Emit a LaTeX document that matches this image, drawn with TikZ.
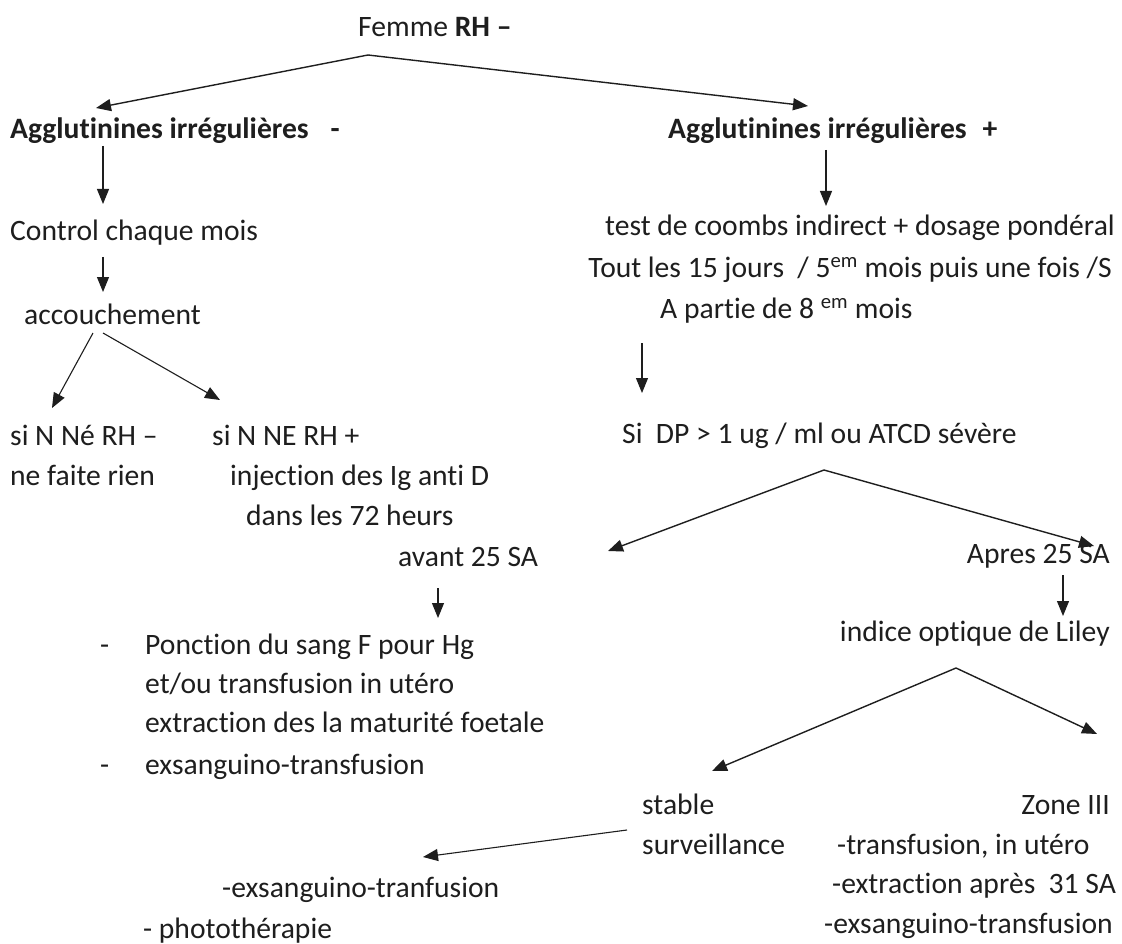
\documentclass[tikz,border=0pt]{standalone}
\usepackage{fontspec}
\setmainfont{Carlito}[Ligatures={NoCommon}]
\usetikzlibrary{arrows.meta}
\definecolor{ink}{HTML}{1E1E1E}
\begin{document}
\begin{tikzpicture}[x=1pt,y=-1pt,
  txt/.style={inner sep=0pt, anchor=base west, font=\fontsize{29.6}{40}\selectfont, text=ink},
  txtr/.style={txt, anchor=base east},
  arr/.style={draw=ink, line width=1.4pt, -{Triangle[length=15pt,width=12pt]}},
  varr/.style={arr, line width=1.1pt}]
\useasboundingbox[fill=white] (0,0) rectangle (1122,944);

% ---------- texts ----------
\node[txt] (femme) at (358,37) {Femme \textbf{RH –}};
\node[txt] (aggm) at (10,139) {\textbf{Agglutinines irrégulières\hspace{22pt}-}};
\node[txt] (aggp) at (668,139) {\textbf{Agglutinines irrégulières\hspace{16pt}+}};
\node[txt] (ctrl) at (10,241) {Control chaque mois};
\node[txt] (acc) at (24,324) {accouchement};
\node[txt] (sineg) at (10,445) {si N Né RH –};
\node[txt] (rien) at (10,485) {ne faite rien};
\node[txt] (sipos) at (212,445) {si N NE RH +};
\node[txt] (inj) at (230,485) {injection des Ig anti D};
\node[txt] (dans) at (246,525) {dans les 72 heurs};
\node[txt] (avant) at (398,566) {avant 25 SA};
\node[txt] (d1) at (100,654) {-};
\node[txt] (ponc) at (145,654) {Ponction du sang F pour Hg};
\node[txt] (etou) at (145,693) {et/ou transfusion in utéro};
\node[txt] (extr) at (145,732) {extraction des la maturité foetale};
\node[txt] (d2) at (100,774) {-};
\node[txt] (exs1) at (145,774) {exsanguino-transfusion};
\node[txt] (exs2) at (222,897) {-exsanguino-tranfusion};
\node[txt] (photo) at (143,938) {- photothérapie};

\node[txt] (test) at (605,236) {test de coombs indirect + dosage pondéral};
\node[txtr] (tout) at (1112,277) {Tout les 15 jours\ \ / 5\textsuperscript{em} mois puis une fois /S};
\node[txt] (apartie) at (660,318) {A partie de 8 \textsuperscript{em} mois};
\node[txt] (sidp) at (622,443) {Si\ \ DP > 1 ug / ml ou ATCD sévère};
\node[txtr] (apres) at (1110,563) {Apres 25 SA};
\node[txtr] (liley) at (1110,641) {indice optique de Liley};
\node[txt] (stable) at (642,814) {stable};
\node[txt] (surv) at (642,854) {surveillance};
\node[txtr] (zone) at (1110,814) {Zone III};
\node[txt] (tr) at (837,854) {-transfusion, in utéro};
\node[txt] (ex31) at (832,893) {-extraction après\ \ 31 SA};
\node[txt] (exs3) at (824,933) {-exsanguino-transfusion};

% ---------- connector points ----------
\coordinate (fS) at (368,55);
\coordinate (aggmT) at (96,108);
\coordinate (aggpT) at (808,106);
\coordinate (aggmS) at (103,146);
\coordinate (ctrlT) at (103,204);
\coordinate (ctrlS) at (103,257);
\coordinate (accT) at (103,292);
\coordinate (accS1) at (93,333);
\coordinate (accS2) at (103,333);
\coordinate (sinegT) at (52,408);
\coordinate (siposT) at (220,400);
\coordinate (avantS) at (438,588);
\coordinate (ponchT) at (438,618);
\coordinate (aggpS) at (826,150);
\coordinate (testT) at (826,206);
\coordinate (apS) at (642,343);
\coordinate (sidpT) at (642,393);
\coordinate (sidpS) at (824,470);
\coordinate (avT) at (608,551);
\coordinate (apresT) at (1094,546);
\coordinate (apresS) at (1063,575);
\coordinate (lileyT) at (1063,616);
\coordinate (lileyS) at (956,668);
\coordinate (stableT) at (712,771);
\coordinate (zoneT) at (1097,734);
\coordinate (survS) at (627,830);
\coordinate (exsT) at (423,857);

% ---------- connectors ----------
\draw[arr] (fS) -- (aggmT);
\draw[arr] (fS) -- (aggpT);
\draw[varr] (aggmS) -- (ctrlT);
\draw[varr] (ctrlS) -- (accT);
\draw[varr] (accS1) -- (sinegT);
\draw[varr] (accS2) -- (siposT);
\draw[varr] (avantS) -- (ponchT);
\draw[varr] (aggpS) -- (testT);
\draw[varr] (apS) -- (sidpT);
\draw[arr] (sidpS) -- (avT);
\draw[arr] (sidpS) -- (apresT);
\draw[varr] (apresS) -- (lileyT);
\draw[arr] (lileyS) -- (stableT);
\draw[arr] (lileyS) -- (zoneT);
\draw[varr] (survS) -- (exsT);
\end{tikzpicture}
\end{document}
